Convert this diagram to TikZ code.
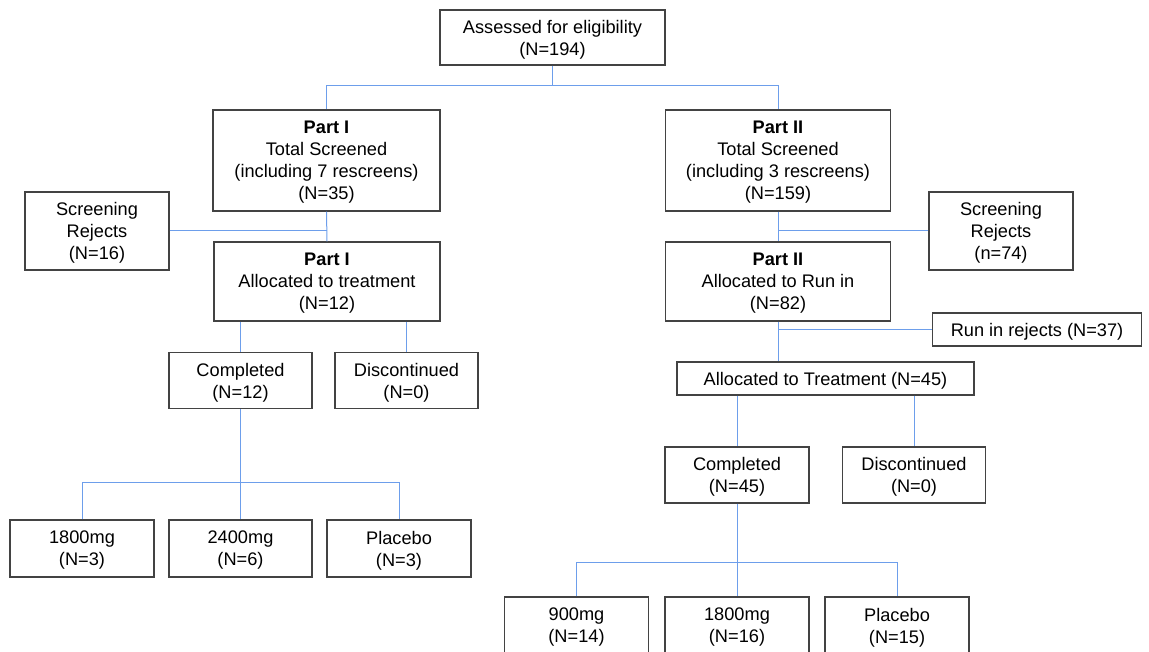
\documentclass[tikz,border=0pt]{standalone}
\usepackage{fontspec}
\setmainfont{Liberation Sans}
\usetikzlibrary{positioning}
\definecolor{linkblue}{RGB}{109,158,235}
\definecolor{boxgray}{RGB}{67,67,67}

\begin{document}
\begin{tikzpicture}[
    x=1pt, y=-1pt,
    font=\fontsize{18.2}{22}\selectfont,
    box/.style={draw=boxgray, line width=1.3pt, fill=white, align=center, inner sep=0pt, text depth=0pt},
    link/.style={draw=linkblue, line width=1pt}
]
\useasboundingbox (0,0) rectangle (1149,652);

\node[box, minimum width=225pt, minimum height=55pt] (assess) at (552.5,37.5) {Assessed for eligibility\\(N=194)};

\node[box, minimum width=227pt, minimum height=101pt] (p1scr) at (326.5,160.5) {\textbf{Part I}\\Total Screened\\(including 7 rescreens)\\(N=35)};
\node[box, minimum width=225pt, minimum height=101pt] (p2scr) at (778,160.5) {\textbf{Part II}\\Total Screened\\(including 3 rescreens)\\(N=159)};

\node[box, minimum width=144pt, minimum height=78pt] (rej1) at (97,231) {Screening\\Rejects\\(N=16)};
\node[box, minimum width=144pt, minimum height=78pt] (rej2) at (1001,231) {Screening\\Rejects\\(n=74)};

\node[box, minimum width=226pt, minimum height=79pt] (p1alloc) at (327,281.5) {\textbf{Part I}\\Allocated to treatment\\(N=12)};
\node[box, minimum width=225pt, minimum height=79pt] (p2alloc) at (778,281.5) {\textbf{Part II}\\Allocated to Run in\\(N=82)};

\node[box, minimum width=209pt, minimum height=33pt] (runrej) at (1037,329.5) {Run in rejects (N=37)};
\node[box, minimum width=297pt, minimum height=33pt] (alloc2) at (825.5,378.5) {Allocated to Treatment (N=45)};

\node[box, minimum width=143pt, minimum height=56pt] (comp1) at (240.5,380.5) {Completed\\(N=12)};
\node[box, minimum width=143pt, minimum height=56pt] (disc1) at (406.5,380.5) {Discontinued\\(N=0)};
\node[box, minimum width=144pt, minimum height=56pt] (comp2) at (737,475) {Completed\\(N=45)};
\node[box, minimum width=143pt, minimum height=56pt] (disc2) at (914,475) {Discontinued\\(N=0)};

\node[box, minimum width=144pt, minimum height=57pt] (dose1a) at (82,548.5) {1800mg\\(N=3)};
\node[box, minimum width=143pt, minimum height=57pt] (dose1b) at (240.5,548.5) {2400mg\\(N=6)};
\node[box, minimum width=144pt, minimum height=57pt] (plac1) at (399,548.5) {Placebo\\(N=3)};

\node[box, minimum width=144pt, minimum height=57pt] (dose2a) at (576.5,625.5) {900mg\\(N=14)};
\node[box, minimum width=144pt, minimum height=57pt] (dose2b) at (737,625.5) {1800mg\\(N=16)};
\node[box, minimum width=144pt, minimum height=57pt] (plac2) at (897,625.5) {Placebo\\(N=15)};

\draw[link] (assess.south) -- ++(0,19.5) coordinate (split0);
\draw[link] (p1scr.north) |- (split0) -| (p2scr.north);

\draw[link] (p1scr.south) -- (p1alloc.north);
\draw[link] (rej1.east) -- (p1scr.south |- rej1.east);
\draw[link] (p2scr.south) -- (p2alloc.north);
\draw[link] (rej2.west) -- (p2scr.south |- rej2.west);

\draw[link] (p2alloc.south) -- (p2alloc.south |- alloc2.north);
\draw[link] (runrej.west) -- (p2alloc.south |- runrej.west);

\draw[link] (comp1.north |- p1alloc.south) -- (comp1.north);
\draw[link] (disc1.north |- p1alloc.south) -- (disc1.north);
\draw[link] (comp2.north |- alloc2.south) -- (comp2.north);
\draw[link] (disc2.north |- alloc2.south) -- (disc2.north);

\draw[link] (comp1.south) -- (dose1b.north);
\draw[link] (dose1a.north) -- ++(0,-37) -| (plac1.north);
\draw[link] (comp2.south) -- (dose2b.north);
\draw[link] (dose2a.north) -- ++(0,-34) -| (plac2.north);
\end{tikzpicture}
\end{document}
